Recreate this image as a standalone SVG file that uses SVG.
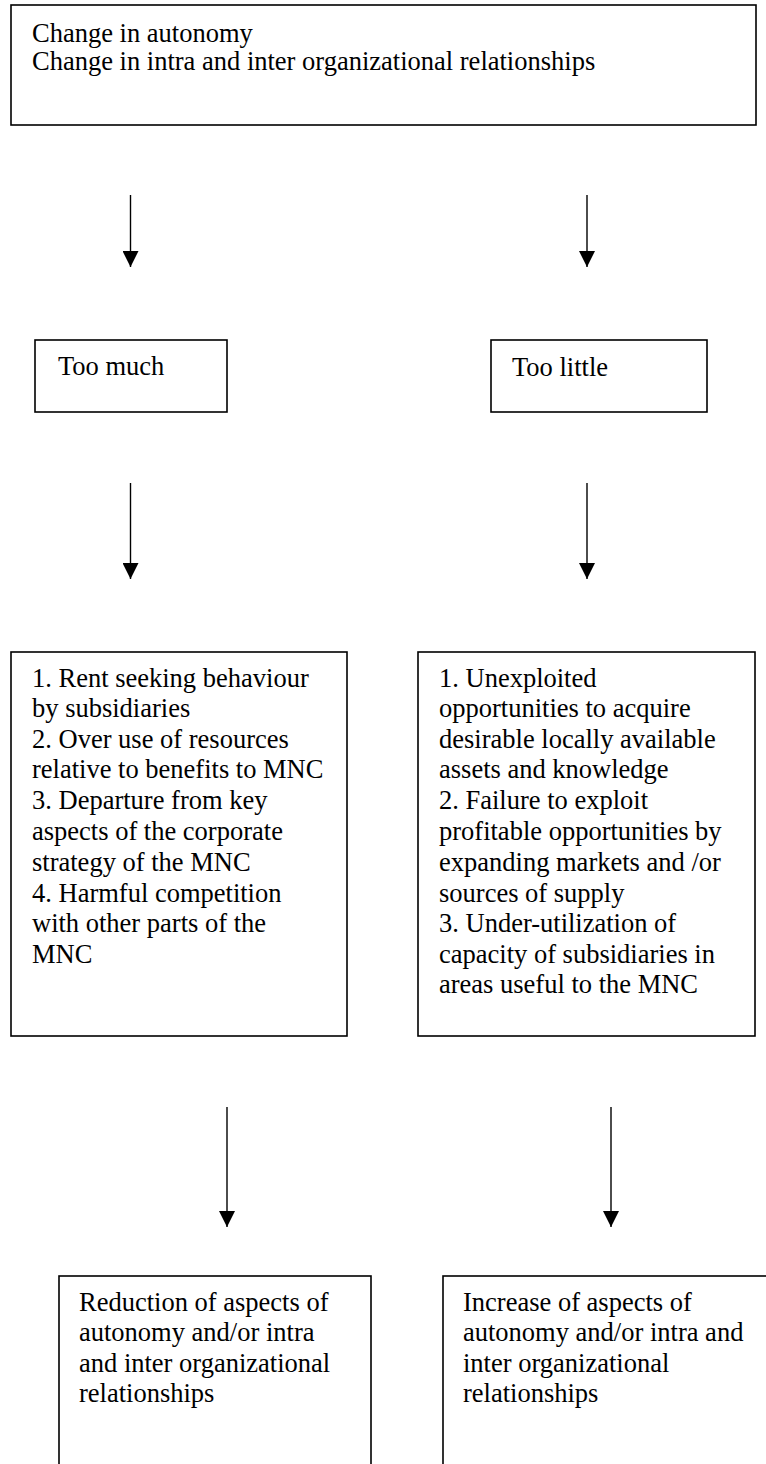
<svg xmlns="http://www.w3.org/2000/svg" width="766" height="1464" viewBox="0 0 766 1464">
<style>
.box{fill:#fff;stroke:#000;stroke-width:1.6}
.t{font-family:"Liberation Serif","Times New Roman",serif;font-size:26.5px;fill:#000}
.conn{stroke:#000;stroke-width:1.4;fill:none}
</style>
<defs>
<marker id="ah" markerUnits="userSpaceOnUse" markerWidth="16" markerHeight="16" refX="16" refY="8" orient="auto">
<path d="M0,0 L16,8 L0,16 z" fill="#000"/>
</marker>
</defs>
<rect width="766" height="1464" fill="#fff"/>
<g id="n-top">
<rect class="box" x="11" y="5" width="745" height="120"/>
<text class="t" x="32" y="42">Change in autonomy</text>
<text class="t" x="32" y="70">Change in intra and inter organizational relationships</text>
</g>
<g id="n-much">
<rect class="box" x="35" y="340" width="192" height="72"/>
<text class="t" x="58" y="375">Too much</text>
</g>
<g id="n-little">
<rect class="box" x="491" y="340" width="216" height="72"/>
<text class="t" x="512" y="376">Too little</text>
</g>
<g id="n-much-effects">
<rect class="box" x="11" y="652" width="336" height="384"/>
<text class="t" x="32" y="687">1. Rent seeking behaviour</text>
<text class="t" x="32" y="717">by subsidiaries</text>
<text class="t" x="32" y="748">2. Over use of resources</text>
<text class="t" x="32" y="778">relative to benefits to MNC</text>
<text class="t" x="32" y="809">3. Departure from key</text>
<text class="t" x="32" y="840">aspects of the corporate</text>
<text class="t" x="32" y="871">strategy of the MNC</text>
<text class="t" x="32" y="902">4. Harmful competition</text>
<text class="t" x="32" y="932">with other parts of the</text>
<text class="t" x="32" y="963">MNC</text>
</g>
<g id="n-little-effects">
<rect class="box" x="418" y="652" width="337" height="384"/>
<text class="t" x="439" y="687">1. Unexploited</text>
<text class="t" x="439" y="717">opportunities to acquire</text>
<text class="t" x="439" y="748">desirable locally available</text>
<text class="t" x="439" y="778">assets and knowledge</text>
<text class="t" x="439" y="809">2. Failure to exploit</text>
<text class="t" x="439" y="840">profitable opportunities by</text>
<text class="t" x="439" y="871">expanding markets and /or</text>
<text class="t" x="439" y="902">sources of supply</text>
<text class="t" x="439" y="932">3. Under-utilization of</text>
<text class="t" x="439" y="963">capacity of subsidiaries in</text>
<text class="t" x="439" y="993">areas useful to the MNC</text>
</g>
<g id="n-reduction">
<rect class="box" x="59" y="1276" width="312" height="210"/>
<text class="t" x="79" y="1311">Reduction of aspects of</text>
<text class="t" x="79" y="1341">autonomy and/or intra</text>
<text class="t" x="79" y="1372">and inter organizational</text>
<text class="t" x="79" y="1402">relationships</text>
</g>
<g id="n-increase">
<rect class="box" x="443" y="1276" width="340" height="210"/>
<text class="t" x="463" y="1311">Increase of aspects of</text>
<text class="t" x="463" y="1341">autonomy and/or intra and</text>
<text class="t" x="463" y="1372">inter organizational</text>
<text class="t" x="463" y="1402">relationships</text>
</g>
<g id="connectors">
<line class="conn" x1="130.5" y1="195" x2="130.5" y2="267" marker-end="url(#ah)"/>
<line class="conn" x1="587" y1="195" x2="587" y2="267" marker-end="url(#ah)"/>
<line class="conn" x1="130.5" y1="483" x2="130.5" y2="579" marker-end="url(#ah)"/>
<line class="conn" x1="587" y1="483" x2="587" y2="579" marker-end="url(#ah)"/>
<line class="conn" x1="227" y1="1107" x2="227" y2="1227" marker-end="url(#ah)"/>
<line class="conn" x1="611" y1="1107" x2="611" y2="1227" marker-end="url(#ah)"/>
</g>
</svg>
